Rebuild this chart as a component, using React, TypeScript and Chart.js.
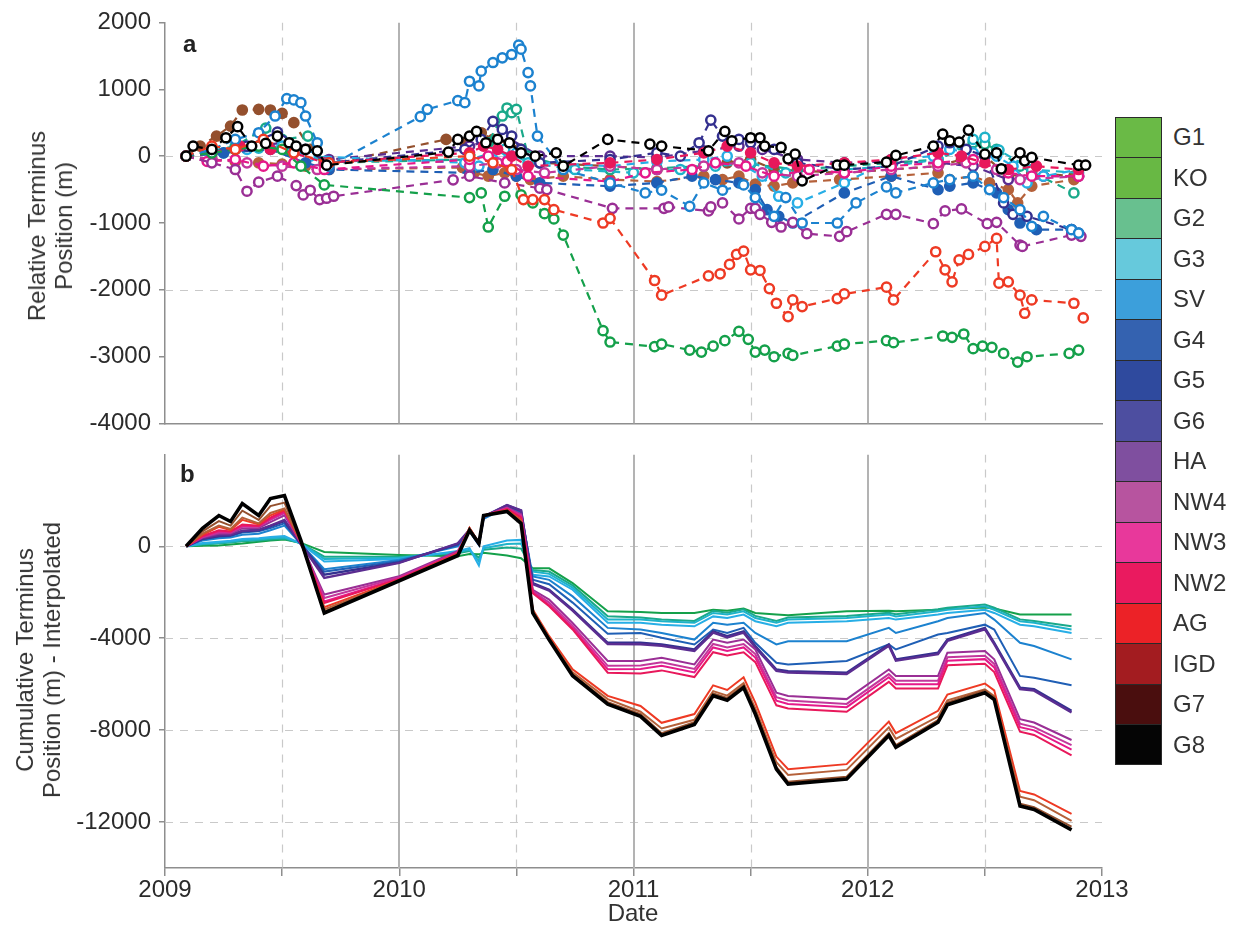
import React, { useEffect, useRef } from 'react';
import { Chart, registerables } from 'chart.js';

Chart.register(...registerables);

const FONT = "'Liberation Sans', Arial, Helvetica, sans-serif";
const AXIS_COLOR = '#8e8e8e';
const TEXT_COLOR = '#2b2b2b';

// Glacier names, top to bottom of the colour bar
const GLACIERS = ['G1', 'KO', 'G2', 'G3', 'SV', 'G4', 'G5', 'G6', 'HA', 'NW4', 'NW3', 'NW2', 'AG', 'IGD', 'G7', 'G8'];
const BAR_COLORS = ['#6aba46', '#68b844', '#68c08f', '#66c9dc', '#3c9fdb', '#3462b0', '#2f4a9e', '#4d4ea0', '#7f4f9f', '#b7549f', '#e8389b', '#ea1a5f', '#ec2227', '#a31c20', '#4a0e0e', '#050505'];
const LINE_COLORS = ['#14a04a', '#1aa98a', '#1fb3c9', '#27aee6', '#1c82cf', '#1f5fb5', '#34308f', '#5b2d91', '#9a2f95', '#c2379c', '#e5198a', '#e8185b', '#ee3a24', '#b5613a', '#94502e', '#000000'];
// glaciers whose panel-a markers are drawn solid instead of as rings
const SOLID_MARKERS = ['G4', 'NW2', 'IGD', 'G7'];

// ---- Panel a: relative terminus position (m) per glacier ----
const A_G1_X = [2009.09, 2009.2, 2009.3, 2009.4, 2009.5, 2009.58, 2009.68, 2010.3, 2010.35, 2010.38, 2010.45, 2010.52, 2010.57, 2010.62, 2010.66, 2010.70, 2010.87, 2010.90, 2011.09, 2011.12, 2011.24, 2011.29, 2011.34, 2011.39, 2011.45, 2011.49, 2011.52, 2011.56, 2011.60, 2011.66, 2011.68, 2011.87, 2011.90, 2012.08, 2012.11, 2012.32, 2012.36, 2012.41, 2012.45, 2012.49, 2012.53, 2012.58, 2012.64, 2012.68, 2012.86, 2012.90];
const A_G1_Y = [0, 50, 100, 150, 100, -150, -430, -620, -550, -1060, -600, -580, -700, -860, -940, -1180, -2610, -2780, -2850, -2810, -2900, -2930, -2840, -2760, -2620, -2740, -2930, -2900, -3000, -2950, -2980, -2840, -2810, -2760, -2790, -2690, -2710, -2660, -2880, -2840, -2860, -2950, -3080, -3000, -2950, -2900];

const A_KO_X = [2009.09, 2009.2, 2009.3, 2009.43, 2009.5, 2009.61, 2009.68, 2010.3, 2010.38, 2010.44, 2010.46, 2010.48, 2010.5, 2010.55, 2010.7, 2010.9, 2011.1, 2011.3, 2011.5, 2011.7, 2011.9, 2012.1, 2012.3, 2012.45, 2012.5, 2012.55, 2012.65, 2012.88];
const A_KO_Y = [0, 80, 150, 420, 250, 300, -100, -50, 200, 600, 720, 650, 700, 0, -150, -200, -180, -150, -120, -200, -150, -100, -50, 200, 180, 100, -150, -550];

const A_G2_X = [2009.09, 2009.25, 2009.4, 2009.55, 2009.68, 2010.3, 2010.45, 2010.55, 2010.75, 2011.0, 2011.2, 2011.35, 2011.5, 2011.65, 2011.9, 2012.1, 2012.3, 2012.45, 2012.5, 2012.56, 2012.7, 2012.9];
const A_G2_Y = [0, 50, 120, 80, -80, -50, 100, -100, -200, -250, -200, -150, -100, -250, -200, -150, -50, 250, 280, 90, -200, -250];

const A_G3_X = [2009.09, 2009.2, 2009.35, 2009.5, 2009.62, 2010.28, 2010.34, 2010.4, 2010.5, 2010.6, 2010.9, 2011.1, 2011.3, 2011.4, 2011.55, 2011.62, 2011.7, 2011.9, 2012.1, 2012.28, 2012.35, 2012.45, 2012.55, 2012.62, 2012.68, 2012.75, 2012.9];
const A_G3_Y = [0, 30, 100, 150, 0, -100, -150, -50, 50, -100, -150, -80, -50, 0, -300, -600, -700, -400, -50, 0, 100, 50, 0, -150, -400, -300, -200];

const A_SV_X = [2009.09, 2009.2, 2009.3, 2009.4, 2009.47, 2009.52, 2009.55, 2009.58, 2009.6, 2009.65, 2009.7, 2010.09, 2010.12, 2010.25, 2010.28, 2010.30, 2010.34, 2010.35, 2010.40, 2010.44, 2010.48, 2010.51, 2010.52, 2010.55, 2010.56, 2010.59, 2010.7, 2010.9, 2011.05, 2011.12, 2011.24, 2011.3, 2011.38, 2011.47, 2011.52, 2011.6, 2011.65, 2011.72, 2011.87, 2011.95, 2012.08, 2012.12, 2012.28, 2012.35, 2012.45, 2012.52, 2012.58, 2012.65, 2012.7, 2012.75, 2012.87, 2012.9];
const A_SV_Y = [0, 100, 250, 350, 600, 860, 840, 800, 600, 200, -150, 590, 700, 830, 800, 1120, 1050, 1270, 1400, 1470, 1520, 1660, 1600, 1250, 1050, 300, -200, -400, -550, -510, -750, -400, -510, -430, -620, -900, -620, -1000, -1000, -700, -460, -550, -400, -350, -300, -500, -620, -800, -1050, -900, -1100, -1150];

const A_G4_X = [2009.09, 2009.25, 2009.45, 2009.6, 2009.7, 2010.3, 2010.4, 2010.5, 2010.6, 2010.9, 2011.1, 2011.25, 2011.35, 2011.45, 2011.52, 2011.57, 2011.62, 2011.68, 2011.9, 2012.1, 2012.3, 2012.35, 2012.45, 2012.55, 2012.6, 2012.65, 2012.72, 2012.87, 2012.9];
const A_G4_Y = [0, 50, 100, -100, -200, -250, -200, -300, -400, -450, -400, -300, -350, -400, -500, -800, -900, -1000, -550, -300, -500, -450, -400, -550, -800, -1000, -1100, -1100, -1150];

const A_G5_X = [2009.09, 2009.2, 2009.35, 2009.48, 2009.6, 2009.7, 2010.28, 2010.35, 2010.4, 2010.44, 2010.48, 2010.52, 2010.6, 2010.9, 2011.1, 2011.2, 2011.28, 2011.33, 2011.38, 2011.45, 2011.5, 2011.6, 2011.7, 2011.9, 2012.1, 2012.3, 2012.35, 2012.42, 2012.5, 2012.58, 2012.62, 2012.68, 2012.87];
const A_G5_Y = [0, 50, 150, 360, 100, -100, 100, 250, 520, 400, 300, 100, -100, -50, 50, 0, 200, 540, 300, 250, 200, 100, -100, -200, -150, 150, 200, 100, 0, -700, -870, -900, -1100];

const A_G6_X = [2009.09, 2009.3, 2009.5, 2009.7, 2010.3, 2010.45, 2010.6, 2010.9, 2011.1, 2011.3, 2011.45, 2011.55, 2011.7, 2011.9, 2012.1, 2012.3, 2012.45, 2012.6, 2012.75, 2012.9];
const A_G6_Y = [0, 100, 200, -50, 150, 300, 0, 0, -20, 80, 150, 100, -50, -100, -80, -100, -150, -350, -300, -300];

const A_HA_X = [2009.09, 2009.2, 2009.3, 2009.35, 2009.4, 2009.48, 2009.56, 2009.59, 2009.62, 2009.66, 2009.69, 2009.72, 2010.23, 2010.3, 2010.45, 2010.6, 2010.63, 2010.91, 2011.13, 2011.15, 2011.32, 2011.33, 2011.38, 2011.45, 2011.50, 2011.52, 2011.54, 2011.59, 2011.63, 2011.68, 2011.74, 2011.88, 2011.91, 2012.08, 2012.12, 2012.28, 2012.33, 2012.40, 2012.51, 2012.55, 2012.65, 2012.66, 2012.87, 2012.91];
const A_HA_Y = [0, -100, -200, -525, -390, -300, -440, -580, -510, -650, -630, -600, -355, -300, -400, -480, -500, -780, -780, -760, -820, -760, -700, -940, -780, -780, -870, -990, -1060, -990, -1160, -1200, -1130, -870, -870, -1010, -820, -790, -1010, -990, -1330, -1350, -1180, -1200];

const A_NW4_X = [2009.09, 2009.2, 2009.35, 2009.5, 2009.65, 2010.3, 2010.42, 2010.5, 2010.62, 2010.9, 2011.1, 2011.3, 2011.45, 2011.55, 2011.7, 2011.9, 2012.1, 2012.3, 2012.42, 2012.55, 2012.65, 2012.9];
const A_NW4_Y = [0, -50, -100, -150, -200, -150, -100, -200, -250, -150, -200, -150, -100, -250, -300, -250, -200, -150, -100, -200, -350, -300];

const A_NW3_X = [2009.09, 2009.18, 2009.3, 2009.42, 2009.55, 2009.68, 2010.3, 2010.38, 2010.46, 2010.55, 2010.9, 2011.05, 2011.25, 2011.35, 2011.48, 2011.6, 2011.75, 2011.9, 2012.1, 2012.3, 2012.45, 2012.6, 2012.7, 2012.9];
const A_NW3_Y = [0, -80, -50, -150, -100, -200, -50, 0, -80, -300, -380, -250, -200, -100, -150, -300, -200, -250, -150, -100, -50, -250, -300, -300];

const A_NW2_X = [2009.09, 2009.2, 2009.32, 2009.45, 2009.55, 2009.68, 2010.3, 2010.36, 2010.42, 2010.48, 2010.55, 2010.9, 2011.1, 2011.3, 2011.4, 2011.5, 2011.6, 2011.7, 2011.9, 2012.1, 2012.3, 2012.4, 2012.5, 2012.6, 2012.72, 2012.9];
const A_NW2_Y = [0, 50, 150, 100, 50, -100, 50, 150, 100, 0, -150, -100, -50, 50, 150, 50, -100, -150, -100, -50, 50, 0, -100, -200, -150, -200];

const A_AG_X = [2009.09, 2009.2, 2009.3, 2009.42, 2009.55, 2009.7, 2010.3, 2010.4, 2010.48, 2010.53, 2010.57, 2010.62, 2010.66, 2010.87, 2010.90, 2011.09, 2011.12, 2011.32, 2011.37, 2011.41, 2011.44, 2011.47, 2011.50, 2011.54, 2011.58, 2011.61, 2011.66, 2011.68, 2011.72, 2011.87, 2011.90, 2012.08, 2012.11, 2012.29, 2012.33, 2012.36, 2012.39, 2012.43, 2012.50, 2012.55, 2012.56, 2012.60, 2012.65, 2012.67, 2012.70, 2012.88, 2012.92];
const A_AG_Y = [0, 150, 100, 250, 50, -100, 0, -100, -200, -650, -650, -650, -800, -1000, -930, -1860, -2080, -1790, -1760, -1620, -1470, -1420, -1700, -1710, -1980, -2200, -2400, -2150, -2250, -2130, -2060, -1960, -2150, -1430, -1700, -1880, -1550, -1470, -1350, -1230, -1900, -1880, -2080, -2350, -2150, -2200, -2420];

const A_IGD_X = [2009.09, 2009.2, 2009.3, 2009.4, 2009.5, 2009.6, 2009.7, 2010.27, 2010.32, 2010.38, 2010.45, 2010.5, 2010.56, 2010.7, 2010.9, 2011.1, 2011.3, 2011.38, 2011.45, 2011.52, 2011.6, 2011.68, 2011.88, 2012.1, 2012.3, 2012.35, 2012.45, 2012.52, 2012.6, 2012.64, 2012.7, 2012.88];
const A_IGD_Y = [0, -50, -80, -100, -120, -150, -200, -170, -250, -300, -250, -300, -350, -300, -350, -380, -300, -350, -300, -420, -450, -400, -350, -300, -250, -350, -300, -400, -500, -700, -450, -350];

const A_G7_X = [2009.09, 2009.15, 2009.22, 2009.28, 2009.33, 2009.4, 2009.45, 2009.5, 2009.55, 2009.62, 2009.68, 2010.2, 2010.28, 2010.35, 2010.4, 2010.47, 2010.52, 2010.6, 2010.9, 2011.1, 2011.3, 2011.4, 2011.5, 2011.6, 2011.9, 2012.1, 2012.3, 2012.4, 2012.5, 2012.6, 2012.7, 2012.88];
const A_G7_Y = [0, 150, 300, 450, 690, 700, 690, 640, 500, 100, -135, 250, 200, 350, 250, 200, 100, -100, -150, -200, -150, -100, -50, -200, -250, -200, -150, -50, 0, -300, -250, -300];

const A_G8_X = [2009.09, 2009.12, 2009.2, 2009.26, 2009.31, 2009.37, 2009.43, 2009.48, 2009.53, 2009.56, 2009.6, 2009.65, 2009.69, 2010.21, 2010.25, 2010.30, 2010.33, 2010.37, 2010.42, 2010.47, 2010.52, 2010.58, 2010.67, 2010.7, 2010.89, 2011.07, 2011.12, 2011.32, 2011.39, 2011.42, 2011.50, 2011.54, 2011.56, 2011.63, 2011.66, 2011.69, 2011.72, 2011.87, 2011.90, 2012.08, 2012.12, 2012.28, 2012.32, 2012.35, 2012.39, 2012.43, 2012.50, 2012.55, 2012.57, 2012.65, 2012.67, 2012.70, 2012.90, 2012.93];
const A_G8_Y = [0, 150, 100, 275, 440, 150, 190, 300, 200, 150, 100, 80, -135, 60, 250, 300, 370, 200, 250, 200, 50, 0, 50, -150, 250, 180, 150, 80, 370, 230, 275, 275, 150, 130, -40, 30, -370, -135, -135, -90, 10, 150, 330, 230, 210, 390, 30, 50, -190, 50, -70, -20, -135, -135];

const A_X = [A_G1_X, A_KO_X, A_G2_X, A_G3_X, A_SV_X, A_G4_X, A_G5_X, A_G6_X, A_HA_X, A_NW4_X, A_NW3_X, A_NW2_X, A_AG_X, A_IGD_X, A_G7_X, A_G8_X];
const A_Y = [A_G1_Y, A_KO_Y, A_G2_Y, A_G3_Y, A_SV_Y, A_G4_Y, A_G5_Y, A_G6_Y, A_HA_Y, A_NW4_Y, A_NW3_Y, A_NW2_Y, A_AG_Y, A_IGD_Y, A_G7_Y, A_G8_Y];
// drawing order: lower numbers are painted on top
const A_ORDER = [3, 12, 11, 10, 2, 9, 8, 13, 4, 7, 6, 5, 1, 14, 15, 0];

// ---- Panel b: cumulative interpolated terminus position (m) ----
const B_DATES = [2009.09, 2009.16, 2009.23, 2009.28, 2009.33, 2009.40, 2009.45, 2009.51, 2009.58, 2009.68, 2010.00, 2010.25, 2010.30, 2010.34, 2010.36, 2010.46, 2010.52, 2010.57, 2010.64, 2010.74, 2010.89, 2011.03, 2011.12, 2011.26, 2011.34, 2011.40, 2011.47, 2011.52, 2011.61, 2011.66, 2011.91, 2012.09, 2012.12, 2012.30, 2012.34, 2012.50, 2012.54, 2012.65, 2012.71, 2012.87];

const B_G1 = [0, 20, 40, 80, 120, 200, 250, 300, 150, -250, -380, -430, -330, -350, -280, -400, -520, -950, -960, -1600, -2830, -2860, -2900, -2900, -2760, -2800, -2710, -2900, -2970, -3000, -2830, -2800, -2830, -2760, -2730, -2660, -2710, -2970, -2970, -2970];
const B_KO = [0, 80, 120, 170, 220, 250, 300, 330, 130, -450, -450, -300, -200, -500, -150, -50, -100, -1030, -1100, -1700, -3040, -3100, -3180, -3250, -2810, -2890, -2740, -3030, -3250, -3100, -3030, -2890, -2960, -2740, -2670, -2530, -2670, -3180, -3250, -3480];
const B_G2 = [0, 100, 150, 200, 260, 300, 350, 380, 130, -550, -500, -250, -150, -650, -80, 100, 120, -1100, -1200, -1800, -3190, -3190, -3260, -3330, -2900, -2970, -2830, -3120, -3330, -3190, -3120, -2970, -3050, -2830, -2760, -2610, -2760, -3260, -3330, -3620];
const B_G3 = [0, 140, 200, 240, 320, 350, 400, 450, 120, -660, -550, -200, -80, -830, 0, 250, 280, -1240, -1310, -1890, -3330, -3330, -3410, -3480, -3050, -3120, -2970, -3260, -3480, -3330, -3260, -3120, -3190, -2970, -2900, -2760, -2900, -3410, -3480, -3770];
const B_SV = [0, 250, 350, 380, 500, 550, 700, 900, 100, -1000, -600, 0, 650, 50, 1200, 1700, 1450, -1310, -1460, -2180, -3550, -3620, -3770, -4060, -3330, -3410, -3330, -3770, -4270, -4130, -4130, -3550, -3770, -3260, -3120, -2900, -3190, -4200, -4340, -4920];
const B_G4 = [0, 300, 420, 450, 600, 650, 800, 1000, 100, -1100, -650, 50, 680, 80, 1250, 1750, 1500, -1450, -1650, -2450, -3800, -3770, -3980, -4270, -3620, -3770, -3550, -4200, -5070, -5140, -4990, -4270, -4490, -3840, -3770, -3410, -3620, -5640, -5720, -6050];
const B_G5 = [0, 330, 450, 480, 650, 700, 880, 1100, 100, -1240, -700, 100, 700, 100, 1280, 1780, 1550, -1600, -1890, -2760, -4200, -4200, -4270, -4490, -3700, -3910, -3700, -4340, -5360, -5430, -5500, -4270, -4920, -4630, -4060, -3550, -4200, -6150, -6220, -7160];
const B_G6 = [0, 350, 480, 500, 680, 720, 900, 1150, 100, -1380, -720, 130, 720, 110, 1300, 1800, 1560, -1650, -1930, -2800, -4250, -4260, -4330, -4550, -3760, -3970, -3760, -4400, -5420, -5490, -5560, -4330, -4980, -4690, -4120, -3610, -4260, -6210, -6280, -7230];
const B_HA = [0, 380, 550, 560, 780, 800, 1050, 1350, 150, -2100, -1300, -200, 740, 120, 1310, 1700, 1400, -1890, -2320, -3330, -4990, -4990, -4850, -5140, -4060, -4200, -4060, -4490, -6370, -6510, -6650, -5360, -5640, -5640, -4630, -4560, -4920, -7520, -7670, -8430];
const B_NW4 = [0, 400, 600, 600, 850, 850, 1150, 1450, 150, -2250, -1350, -250, 760, 130, 1320, 1660, 1350, -1950, -2450, -3450, -5200, -5190, -5050, -5340, -4250, -4400, -4250, -4690, -6570, -6710, -6860, -5560, -5850, -5850, -4830, -4760, -5120, -7720, -7870, -8650];
const B_NW3 = [0, 420, 650, 630, 900, 880, 1200, 1500, 150, -2400, -1400, -280, 770, 130, 1330, 1640, 1300, -2000, -2550, -3550, -5350, -5340, -5200, -5490, -4400, -4550, -4400, -4840, -6720, -6860, -7000, -5700, -6000, -6000, -4980, -4910, -5270, -7870, -8010, -8850];
const B_NW2 = [0, 450, 700, 650, 950, 900, 1250, 1550, 150, -2470, -1430, -300, 780, 140, 1330, 1620, 1250, -2040, -2610, -3620, -5500, -5540, -5400, -5690, -4610, -4750, -4610, -5040, -6920, -7060, -7200, -5900, -6190, -6190, -5180, -5110, -5470, -8070, -8210, -9100];
const B_AG = [0, 500, 850, 700, 1150, 950, 1350, 1600, 200, -2650, -1450, -320, 800, 150, 1350, 1580, 1150, -2750, -3910, -5350, -6510, -6950, -7680, -7300, -6050, -6250, -5700, -6800, -9150, -9700, -9480, -7630, -8130, -7160, -6450, -5970, -6270, -10650, -10800, -11640];
const B_IGD = [0, 550, 900, 750, 1250, 1000, 1450, 1650, 200, -2750, -1470, -350, 780, 150, 1350, 1560, 1100, -2800, -3980, -5480, -6650, -7200, -7930, -7550, -6300, -6500, -5950, -7050, -9400, -9950, -9730, -7880, -8380, -7410, -6700, -6220, -6520, -10900, -11050, -11950];
const B_G7 = [0, 650, 1100, 900, 1550, 1150, 1750, 1900, 220, -2850, -1490, -380, 750, 140, 1340, 1540, 1050, -2850, -4030, -5580, -6780, -7300, -8130, -7650, -6400, -6600, -6050, -7200, -9600, -10250, -10030, -8130, -8650, -7560, -6800, -6270, -6570, -11200, -11350, -12200];
const B_G8 = [0, 780, 1340, 1080, 1860, 1340, 2080, 2210, 260, -2900, -1500, -400, 700, 130, 1340, 1520, 1000, -2900, -4070, -5630, -6870, -7400, -8230, -7750, -6500, -6700, -6150, -7300, -9700, -10350, -10130, -8230, -8750, -7660, -6900, -6370, -6670, -11300, -11450, -12340];

const B_SERIES = [B_G1, B_KO, B_G2, B_G3, B_SV, B_G4, B_G5, B_G6, B_HA, B_NW4, B_NW3, B_NW2, B_AG, B_IGD, B_G7, B_G8];

// ---- axes ----
const YEAR_LINES = [2010, 2011, 2012];
const HALF_YEAR_LINES = [2009.5, 2010.5, 2011.5, 2012.5];
const A_H_LINES = [0, -2000];
const B_H_LINES = [0, -4000, -8000, -12000];
const B_Y_TICKS = [-12000, -8000, -4000, 0];

const zip = (xs: number[], ys: number[]) => xs.map((x, i) => ({ x, y: ys[i] }));

function gridPlugin(hLines: number[]) {
  return {
    id: 'panelGrid',
    beforeDatasetsDraw(chart: any) {
      const { ctx, chartArea: a, scales } = chart;
      const xs = scales.x;
      const ys = scales.y;
      ctx.save();
      ctx.beginPath();
      ctx.rect(a.left, a.top, a.right - a.left, a.bottom - a.top);
      ctx.clip();
      ctx.lineWidth = 1.2;
      ctx.strokeStyle = '#c9c9c9';
      ctx.setLineDash([8, 7]);
      hLines.forEach((v) => {
        const py = Math.round(ys.getPixelForValue(v)) + 0.5;
        ctx.beginPath();
        ctx.moveTo(a.left, py);
        ctx.lineTo(a.right, py);
        ctx.stroke();
      });
      HALF_YEAR_LINES.forEach((v) => {
        const px = Math.round(xs.getPixelForValue(v)) + 0.5;
        ctx.beginPath();
        ctx.moveTo(px, a.top);
        ctx.lineTo(px, a.bottom);
        ctx.stroke();
      });
      ctx.setLineDash([]);
      ctx.lineWidth = 2;
      ctx.strokeStyle = '#b3b3b3';
      YEAR_LINES.forEach((v) => {
        const px = Math.round(xs.getPixelForValue(v));
        ctx.beginPath();
        ctx.moveTo(px, a.top);
        ctx.lineTo(px, a.bottom);
        ctx.stroke();
      });
      ctx.restore();
    },
  };
}

const tickFont = { family: FONT, size: 24 };
const numLabel = (v: any) => String(Math.round(Number(v)));

function PanelA() {
  const ref = useRef<HTMLCanvasElement>(null);
  useEffect(() => {
    if (!ref.current) return;
    const datasets = GLACIERS.map((name, i) => ({
      label: name,
      data: zip(A_X[i], A_Y[i]),
      borderColor: LINE_COLORS[i],
      borderWidth: 2.2,
      borderDash: [8, 6],
      pointRadius: 4.6,
      pointBorderWidth: 2.5,
      pointBorderColor: LINE_COLORS[i],
      pointBackgroundColor: SOLID_MARKERS.includes(name) ? LINE_COLORS[i] : '#ffffff',
      order: A_ORDER[i],
      tension: 0,
    }));
    const chart = new Chart(ref.current, {
      type: 'line',
      data: { datasets },
      plugins: [gridPlugin(A_H_LINES)],
      options: {
        animation: false,
        responsive: false,
        maintainAspectRatio: false,
        layout: { padding: { top: 20, right: 28, bottom: 14, left: 0 } },
        plugins: { legend: { display: false }, tooltip: { enabled: false } },
        scales: {
          x: {
            type: 'linear',
            min: 2009,
            max: 2013,
            ticks: { display: false },
            grid: { display: true, drawOnChartArea: false, drawTicks: false },
            border: { display: true, color: AXIS_COLOR, width: 1.5 },
            afterFit: (s: any) => { s.height = 0; },
          },
          y: {
            min: -4000,
            max: 2000,
            ticks: { stepSize: 1000, font: tickFont, color: TEXT_COLOR, padding: 8, callback: numLabel },
            grid: { drawOnChartArea: false, tickLength: 6, color: AXIS_COLOR, lineWidth: 1.5 },
            border: { display: true, color: AXIS_COLOR, width: 1.5 },
            afterFit: (s: any) => { s.width = 165; },
          },
        },
      } as any,
    });
    return () => chart.destroy();
  }, []);
  return <canvas ref={ref} width={1130} height={446} style={{ position: 'absolute', left: 0, top: 0, width: 1130, height: 446 }} />;
}

function PanelB() {
  const ref = useRef<HTMLCanvasElement>(null);
  useEffect(() => {
    if (!ref.current) return;
    const datasets = GLACIERS.map((name, i) => ({
      label: name,
      data: zip(B_DATES, B_SERIES[i]),
      borderColor: LINE_COLORS[i],
      borderWidth: name === 'G8' ? 3.6 : name === 'G5' || name === 'G6' ? 2.4 : 2,
      pointRadius: 0,
      order: name === 'G8' ? 0 : 16 - i,
      tension: 0,
    }));
    const chart = new Chart(ref.current, {
      type: 'line',
      data: { datasets },
      plugins: [gridPlugin(B_H_LINES)],
      options: {
        animation: false,
        responsive: false,
        maintainAspectRatio: false,
        layout: { padding: { top: 20, right: 28, bottom: 0, left: 0 } },
        plugins: { legend: { display: false }, tooltip: { enabled: false } },
        scales: {
          x: {
            type: 'linear',
            min: 2009,
            max: 2013,
            ticks: {
              stepSize: 0.5,
              autoSkip: false,
              maxRotation: 0,
              font: tickFont,
              color: TEXT_COLOR,
              padding: 0,
              callback: (v: any) => (Math.abs(v - Math.round(v)) < 1e-6 ? String(Math.round(v)) : ''),
            },
            grid: { display: true, drawOnChartArea: false, tickLength: 8, color: AXIS_COLOR, lineWidth: 1.5 },
            border: { display: true, color: AXIS_COLOR, width: 1.5 },
            afterFit: (s: any) => { s.height = 69; },
          },
          y: {
            min: -14000,
            max: 4000,
            afterBuildTicks: (s: any) => { s.ticks = B_Y_TICKS.map((value) => ({ value })); },
            ticks: { font: tickFont, color: TEXT_COLOR, padding: 8, callback: numLabel },
            grid: { drawOnChartArea: false, tickLength: 6, color: AXIS_COLOR, lineWidth: 1.5 },
            border: { display: true, color: AXIS_COLOR, width: 1.5 },
            afterFit: (s: any) => { s.width = 165; },
          },
        },
      } as any,
    });
    return () => chart.destroy();
  }, []);
  return <canvas ref={ref} width={1130} height={505} style={{ position: 'absolute', left: 0, top: 432, width: 1130, height: 505 }} />;
}

function RotatedTitle({ lines, cx, cy }: { lines: string[]; cx: number; cy: number }) {
  return (
    <div
      style={{
        position: 'absolute',
        left: cx,
        top: cy,
        transform: 'translate(-50%, -50%) rotate(-90deg)',
        whiteSpace: 'nowrap',
        textAlign: 'center',
        fontFamily: FONT,
        fontSize: 24,
        lineHeight: '27px',
        color: '#333',
      }}
    >
      {lines.map((l) => (
        <div key={l}>{l}</div>
      ))}
    </div>
  );
}

const BAR_LEFT = 1115;
const BAR_TOP = 117;
const BAR_CELL = 40.5;
const BAR_WIDTH = 47;

function ColorBar() {
  return (
    <>
      <div
        style={{
          position: 'absolute',
          left: BAR_LEFT,
          top: BAR_TOP,
          width: BAR_WIDTH,
          height: BAR_CELL * GLACIERS.length,
          border: '1.5px solid #2a2a2a',
          boxSizing: 'border-box',
          overflow: 'hidden',
        }}
      >
        {GLACIERS.map((g, i) => (
          <div
            key={g}
            style={{
              position: 'absolute',
              left: 0,
              right: 0,
              top: i * BAR_CELL - 1.5,
              height: BAR_CELL,
              background: BAR_COLORS[i],
              borderTop: i === 0 ? 'none' : '1.5px solid #2a2a2a',
              boxSizing: 'border-box',
            }}
          />
        ))}
      </div>
      {GLACIERS.map((g, i) => (
        <div
          key={'l' + g}
          style={{
            position: 'absolute',
            left: BAR_LEFT + BAR_WIDTH + 11,
            top: BAR_TOP + i * BAR_CELL + BAR_CELL / 2 - 14,
            height: 28,
            lineHeight: '28px',
            fontFamily: FONT,
            fontSize: 24,
            color: '#333',
          }}
        >
          {g}
        </div>
      ))}
    </>
  );
}

export default function App() {
  return (
    <div style={{ position: 'fixed', left: 0, top: 0, width: 1239, height: 937, background: '#ffffff', overflow: 'hidden' }}>
      <PanelA />
      <PanelB />
      <RotatedTitle lines={['Relative Terminus', 'Position (m)']} cx={50} cy={226} />
      <RotatedTitle lines={['Cumulative Terminus', 'Position (m) - Interpolated']} cx={38} cy={660} />
      <div style={{ position: 'absolute', left: 183, top: 30, fontFamily: FONT, fontWeight: 'bold', fontSize: 24, lineHeight: '28px', color: '#222' }}>a</div>
      <div style={{ position: 'absolute', left: 180, top: 460, fontFamily: FONT, fontWeight: 'bold', fontSize: 24, lineHeight: '28px', color: '#222' }}>b</div>
      <div style={{ position: 'absolute', left: 633, top: 913, transform: 'translate(-50%, -50%)', fontFamily: FONT, fontSize: 24, color: '#333' }}>Date</div>
      <ColorBar />
    </div>
  );
}
